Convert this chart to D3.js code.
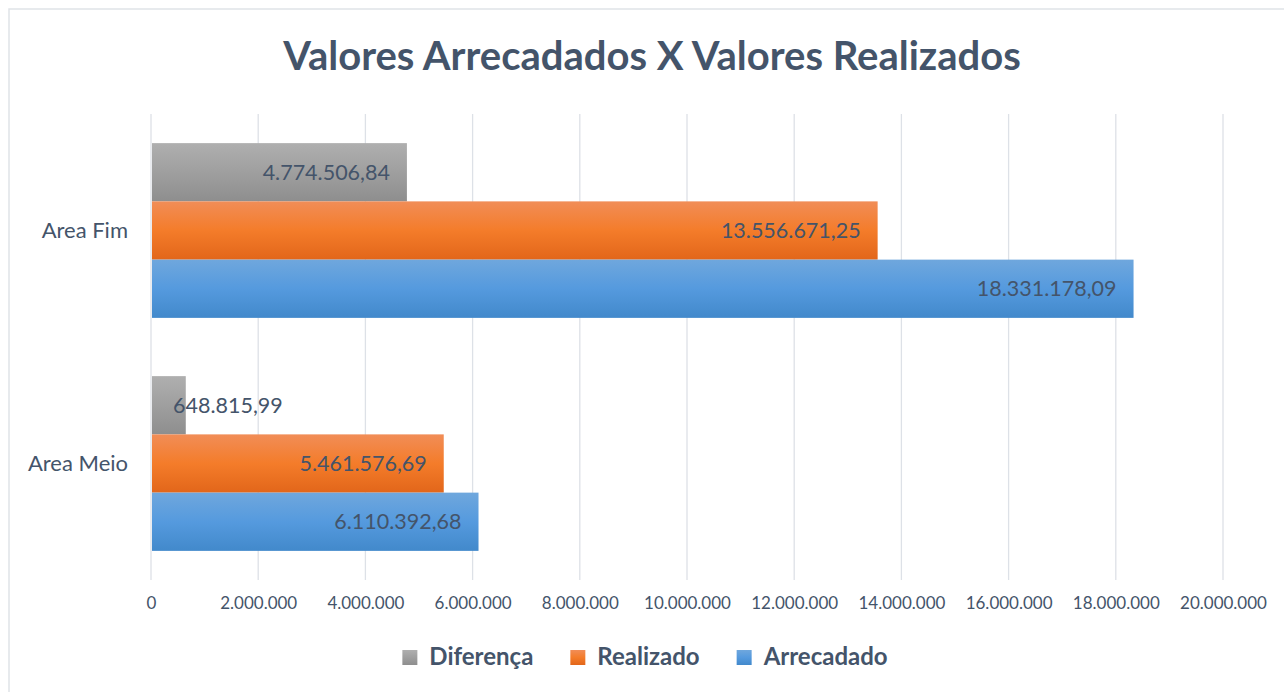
<!DOCTYPE html>
<html>
<head>
<meta charset="utf-8">
<script src="https://cdn.jsdelivr.net/npm/d3@7"></script>
<style>
  body { margin: 0; background: #fff; }
  svg text { font-family: Lato, "Open Sans", sans-serif; fill: #44546a; }
</style>
</head>
<body>
<div id="chart"></div>
<script>
// Valores Arrecadados X Valores Realizados

var width = 1284;
var height = 692;

// data
var categories = ["Area Fim", "Area Meio"];
var series = ["Diferença", "Realizado", "Arrecadado"];
var diferenca = [4774506.84, 648815.99];
var realizado = [13556671.25, 5461576.69];
var arrecadado = [18331178.09, 6110392.68];
var xTicks = [0, 2000000, 4000000, 6000000, 8000000, 10000000, 12000000, 14000000, 16000000, 18000000, 20000000];

var values = { "Diferença": diferenca, "Realizado": realizado, "Arrecadado": arrecadado };

// pt-BR number format
var br = d3.formatLocale({ decimal: ",", thousands: ".", grouping: [3], currency: ["R$", ""] });
var fmtTick = br.format(",.0f");
var fmtVal = br.format(",.2f");

var svg = d3.select("#chart")
    .append("svg")
    .attr("width", width)
    .attr("height", height);

// gradients (light top -> darker bottom)
var grads = {
    "Diferença": ["#afafaf", "#9f9f9f", "#8e8e8e"],
    "Realizado": ["#f18d57", "#f47c2a", "#e2661a"],
    "Arrecadado": ["#6fa7dd", "#559ade", "#4289cb"]
};
var defs = svg.append("defs");
series.forEach(function(s, i) {
    var g = defs.append("linearGradient")
        .attr("id", "grad" + i)
        .attr("x1", 0).attr("y1", 0).attr("x2", 0).attr("y2", 1);
    g.append("stop").attr("offset", "0%").attr("stop-color", grads[s][0]);
    g.append("stop").attr("offset", "50%").attr("stop-color", grads[s][1]);
    g.append("stop").attr("offset", "100%").attr("stop-color", grads[s][2]);
});

// chart border
svg.append("rect")
    .attr("x", 9).attr("y", 9)
    .attr("width", 1300).attr("height", 700)
    .attr("fill", "none")
    .attr("stroke", "#dfe3e8")
    .attr("stroke-width", 1.5);

// title
svg.append("text")
    .attr("x", 652)
    .attr("y", 70)
    .attr("text-anchor", "middle")
    .style("font-size", "40px")
    .style("font-weight", "bold")
    .text("Valores Arrecadados X Valores Realizados");

// scales
var x = d3.scaleLinear()
    .domain([0, 20000000])
    .range([151, 1223]);

var y0 = d3.scaleBand()
    .domain(categories)
    .range([114, 580])
    .paddingInner(0.25)
    .paddingOuter(0.125);

var y1 = d3.scaleBand()
    .domain(series)
    .range([0, y0.bandwidth()]);

// gridlines
svg.append("g")
    .selectAll("line")
    .data(xTicks)
    .enter()
    .append("line")
    .attr("x1", function(d) { return x(d); })
    .attr("x2", function(d) { return x(d); })
    .attr("y1", 114)
    .attr("y2", 580)
    .attr("stroke", "#dde1e7")
    .attr("stroke-width", 1.3);

// x axis labels
var xAxis = svg.append("g")
    .attr("transform", "translate(0,580)")
    .call(d3.axisBottom(x).tickValues(xTicks).tickFormat(fmtTick).tickSize(0).tickPadding(17));
xAxis.select(".domain").remove();
xAxis.selectAll("text")
    .style("font-size", "17px")
    .style("font-family", "Lato, sans-serif")
    .attr("fill", "#44546a");

// y axis labels
var yAxis = svg.append("g")
    .attr("transform", "translate(151,0)")
    .call(d3.axisLeft(y0).tickSize(0).tickPadding(23));
yAxis.select(".domain").remove();
yAxis.selectAll("text")
    .style("font-size", "22px")
    .style("font-family", "Lato, sans-serif")
    .attr("fill", "#44546a");

// bars
var rows = [];
categories.forEach(function(c, ci) {
    series.forEach(function(s, si) {
        rows.push({ cat: c, series: s, idx: si, value: values[s][ci] });
    });
});

var groups = svg.append("g");

groups.selectAll("rect")
    .data(rows)
    .enter()
    .append("rect")
    .attr("x", x(0) + 1)
    .attr("y", function(d) { return y0(d.cat) + y1(d.series); })
    .attr("width", function(d) { return x(d.value) - x(0) - 1; })
    .attr("height", y1.bandwidth())
    .attr("fill", function(d) { return "url(#grad" + d.idx + ")"; });

// data labels (inside end)
groups.selectAll(".lbl")
    .data(rows)
    .enter()
    .append("text")
    .attr("class", "lbl")
    .attr("y", function(d) { return y0(d.cat) + y1(d.series) + y1.bandwidth() / 2; })
    .attr("dy", "0.35em")
    .attr("text-anchor", "end")
    .style("font-size", "21.5px")
    .text(function(d) { return fmtVal(d.value); })
    .attr("x", function(d) {
        var w = this.getComputedTextLength();
        return Math.max(x(d.value) - 17, x(0) + 22 + w);
    });

// legend
var legend = svg.append("g");
var items = legend.selectAll("g")
    .data(series)
    .enter()
    .append("g");
items.append("rect")
    .attr("width", 15)
    .attr("height", 15)
    .attr("y", 650)
    .attr("fill", function(d, i) { return "url(#grad" + i + ")"; });
items.append("text")
    .attr("x", 27)
    .attr("y", 665)
    .style("font-size", "24px")
    .style("font-weight", "bold")
    .text(function(d) { return d; });

var widths = [];
items.each(function() { widths.push(d3.select(this).select("text").node().getComputedTextLength() + 27); });
var gap = 37;
var total = d3.sum(widths) + gap * (widths.length - 1);
var cx = 645 - total / 2;
items.attr("transform", function(d, i) {
    var off = cx + d3.sum(widths.slice(0, i)) + gap * i;
    return "translate(" + off + ",0)";
});
</script>
</body>
</html>
